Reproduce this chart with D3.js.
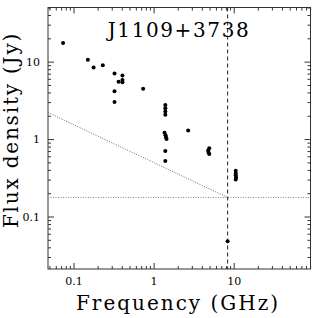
<!DOCTYPE html>
<html>
<head>
<meta charset="utf-8">
<script src="https://cdn.jsdelivr.net/npm/d3@7"></script>
<style>
  html, body { margin: 0; padding: 0; background: #fff; }
  svg { display: block; }
  text { font-family: 'DejaVu Serif', serif; fill: #000; }
  .tick line { stroke: #333; }
  .domain { display: none; }
</style>
</head>
<body>
<svg id="chart" width="318" height="318"></svg>
<script>
  // measured points (GHz, Jy)
  var frequencies = [0.074, 0.151, 0.178, 0.232, 0.325, 0.325, 0.325, 0.365, 0.408, 0.408, 0.408, 0.74,
    1.4, 1.4, 1.4, 1.4, 1.37, 1.41, 1.43, 1.45, 1.4, 1.4, 2.7,
    4.95, 4.8, 4.85, 4.95, 10.6, 10.6, 10.6, 10.7, 10.6, 8.4];
  var fluxes = [17.4, 10.6, 8.4, 9.0, 7.0, 4.15, 3.0, 5.5, 6.6, 5.8, 5.4, 4.45,
    2.76, 2.5, 2.27, 2.06, 1.21, 1.12, 1.05, 1.0, 0.70, 0.52, 1.29,
    0.76, 0.71, 0.67, 0.64, 0.39, 0.36, 0.34, 0.32, 0.30, 0.048];

  // reference lines
  var cutFrequency = 8.4;
  var fluxLimit = 0.176;
  var slopeFreqs = [0.048, 8.4];
  var slopeFluxes = [2.2, 0.176];

  var xMajor = [0.1, 1, 10];
  var yMajor = [0.1, 1, 10];
  var titleText = 'J1109+3738';
  var xLabel = 'Frequency (GHz)';
  var yLabel = 'Flux density (Jy)';

(function () {
  var svg = d3.select('#chart');
  var plotLeft = 48, plotRight = 310.5, plotTop = 7.5, plotBottom = 269;

  var x = d3.scaleLog().domain([0.048, 91]).range([plotLeft, plotRight]);
  var y = d3.scaleLog().domain([0.021, 50]).range([plotBottom, plotTop]);

  function minorTicks (scale, major) {
    return scale.ticks().filter(function (v) {
      return major.indexOf(+v.toPrecision(6)) < 0;
    });
  }
  var xMinor = minorTicks(x, xMajor);
  var yMinor = minorTicks(y, yMajor);

  function fmt (v) { return v < 1 ? String(v) : d3.format('d')(v); }

  // minor + major ticks on all four sides, pointing inward
  svg.append('g').attr('transform', 'translate(0,' + plotBottom + ')')
    .call(d3.axisBottom(x).tickValues(xMinor).tickSize(-3).tickFormat(''));
  svg.append('g').attr('transform', 'translate(0,' + plotBottom + ')')
    .call(d3.axisBottom(x).tickValues(xMajor).tickSize(-6).tickPadding(8).tickFormat(fmt))
    .selectAll('text').attr('font-size', 11).attr('font-family', 'DejaVu Serif');
  svg.append('g').attr('transform', 'translate(0,' + plotTop + ')')
    .call(d3.axisTop(x).tickValues(xMinor).tickSize(-3).tickFormat(''));
  svg.append('g').attr('transform', 'translate(0,' + plotTop + ')')
    .call(d3.axisTop(x).tickValues(xMajor).tickSize(-6).tickFormat(''));

  svg.append('g').attr('transform', 'translate(' + plotLeft + ',0)')
    .call(d3.axisLeft(y).tickValues(yMinor).tickSize(-3).tickFormat(''));
  svg.append('g').attr('transform', 'translate(' + plotLeft + ',0)')
    .call(d3.axisLeft(y).tickValues(yMajor).tickSize(-6).tickPadding(8).tickFormat(fmt))
    .selectAll('text').attr('font-size', 11).attr('font-family', 'DejaVu Serif');
  svg.append('g').attr('transform', 'translate(' + plotRight + ',0)')
    .call(d3.axisRight(y).tickValues(yMinor).tickSize(-3).tickFormat(''));
  svg.append('g').attr('transform', 'translate(' + plotRight + ',0)')
    .call(d3.axisRight(y).tickValues(yMajor).tickSize(-6).tickFormat(''));

  svg.append('rect')
    .attr('x', plotLeft).attr('y', plotTop)
    .attr('width', plotRight - plotLeft).attr('height', plotBottom - plotTop)
    .attr('fill', 'none').attr('stroke', '#333').attr('stroke-width', 1);

  // reference lines
  svg.append('line')
    .attr('x1', plotLeft).attr('x2', plotRight)
    .attr('y1', y(fluxLimit)).attr('y2', y(fluxLimit))
    .attr('stroke', '#888').attr('stroke-dasharray', '1,1.5');
  svg.append('line')
    .attr('x1', x(cutFrequency)).attr('x2', x(cutFrequency))
    .attr('y1', plotTop).attr('y2', plotBottom)
    .attr('stroke', '#222').attr('stroke-dasharray', '4,3');
  svg.append('line')
    .attr('x1', x(slopeFreqs[0])).attr('x2', x(slopeFreqs[1]))
    .attr('y1', y(slopeFluxes[0])).attr('y2', y(slopeFluxes[1]))
    .attr('stroke', '#666').attr('stroke-dasharray', '1,1.5');

  // points
  svg.append('g').selectAll('circle')
    .data(frequencies)
    .enter().append('circle')
    .attr('cx', function (d) { return x(d); })
    .attr('cy', function (d, i) { return y(fluxes[i]); })
    .attr('r', 2)
    .attr('fill', '#000');

  svg.append('text')
    .attr('x', 179).attr('y', 36.5)
    .attr('text-anchor', 'middle').attr('font-size', 20)
    .attr('letter-spacing', 1.6)
    .text(titleText);
  svg.append('text')
    .attr('x', 178).attr('y', 310)
    .attr('text-anchor', 'middle').attr('font-size', 20)
    .attr('letter-spacing', 2)
    .text(xLabel);
  svg.append('text')
    .attr('transform', 'translate(17.5,130) rotate(-90)')
    .attr('text-anchor', 'middle').attr('font-size', 20)
    .attr('letter-spacing', 1.8)
    .text(yLabel);
}());
</script>
</body>
</html>
